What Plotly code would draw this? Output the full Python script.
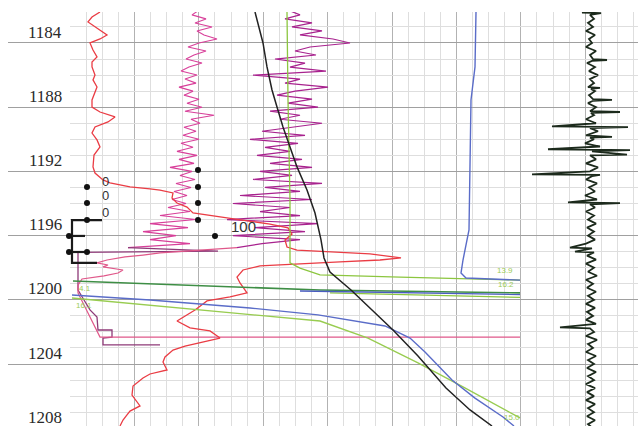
import plotly.graph_objects as go

# ---------------- data (track units across, depth in m) ----------------
depth_ticks = [1184, 1188, 1192, 1196, 1200, 1204, 1208]

# SP-like red curve
sp_depth = [1182.07,1182.38,1182.69,1183.06,1183.50,1183.75,1184.00,1184.44,1184.87,1185.18,
            1185.49,1185.99,1186.30,1186.74,1187.24,1187.55,1187.99,1188.30,1188.61,1188.92,
            1189.23,1189.61,1190.04,1190.48,1190.98,1191.41,1191.72,1192.10,1192.53,1192.72,
            1192.97,1193.09,1193.16,1193.34,1193.66,1193.97,1194.22,1194.59,1194.71,1194.90,
            1195.09,1195.28,1195.52,1195.90,1196.27,1196.71,1196.90,1197.02,1197.14,1197.39,
            1197.52,1197.64,1197.77,1197.89,1198.14,1198.58,1198.95,1199.57,1199.82,1200.07,
            1200.63,1201.32,1201.75,1201.94,1202.38,1202.69,1202.88,1203.13,1203.56,1203.87,
            1204.37,1204.62,1204.87,1205.37,1205.93,1206.61,1206.93,1207.17,1207.49,1207.86]
sp_value = [100,92,88,97,107,100,90,93,97,92,
            92,95,93,97,94,92,92,100,115,108,
            95,92,97,100,94,93,93,95,103,110,
            130,150,160,173,172,177,187,193,207,227,
            250,270,288,292,285,287,297,330,370,401,
            380,340,300,260,243,237,240,247,230,207,
            195,177,190,210,220,200,185,173,165,163,
            167,150,143,133,132,140,130,127,123,120]

# common sampling of the two gamma-type wiggles
log_depth = [1182.00,1182.25,1182.50,1182.75,1183.00,1183.25,1183.50,1183.75,1184.00,1184.25,
             1184.50,1184.75,1185.00,1185.25,1185.50,1185.75,1186.00,1186.25,1186.50,1186.75,
             1187.00,1187.25,1187.50,1187.75,1188.00,1188.25,1188.50,1188.75,1189.00,1189.25,
             1189.50,1189.75,1190.00,1190.25,1190.50,1190.75,1191.00,1191.25,1191.50,1191.75,
             1192.00,1192.25,1192.50,1192.75,1193.00,1193.25,1193.50,1193.75,1194.00,1194.25,
             1194.50,1194.75,1195.00,1195.25,1195.50,1195.75,1196.00,1196.25,1196.50,1196.75]
gr1_value = [198,192,206,195,212,197,204,217,199,188,
             206,194,186,202,189,181,197,185,196,179,
             193,184,199,187,202,185,214,191,200,184,
             196,183,199,181,193,177,197,179,194,170,
             192,180,195,176,191,174,187,172,186,168,
             190,160,196,150,188,143,176,150,190,128]
gr2_value = [290,300,285,312,292,322,300,333,350,310,
             295,316,275,305,290,326,253,300,285,328,
             295,277,312,288,318,270,300,280,322,290,
             262,305,250,298,265,290,257,302,270,312,
             260,292,253,322,265,300,240,312,233,290,
             260,300,227,318,255,305,233,300,262,237]

# lower continuation of gr1 (purple) and of gr2 (pink)
gr1_tail_depth = [1196.75,1196.96,1197.05,1198.14,1199.39,1200.01,1200.63,1201.07,1201.88,1201.88,
                  1202.32,1202.38,1202.81,1202.81]
gr1_tail_value = [128,218,78,78,78,84,90,97,98,112,112,103,103,160]
gr2_tail_depth = [1196.75,1196.90,1196.96,1197.08,1197.21,1197.33,1197.52,1197.70,1197.83,1197.95,
                  1198.14,1198.33,1198.51,1198.70,1199.08,1199.57,1202.32,1202.32]
gr2_tail_value = [237,200,183,160,143,125,107,97,108,103,123,118,104,82,78,78,100,520]

# resistivity-like black curve
res_depth = [1182.07,1184.00,1185.49,1186.93,1187.99,1189.23,1190.48,1191.72,1193.16,1194.59,
             1196.27,1197.39,1198.27,1199.39,1200.63,1201.88,1203.50,1205.49,1206.86,1207.86]
res_value = [255,263,267,272,277,283,290,297,307,315,
             321,324,330,351,372,393,418,446,470,492]

# light green curve (top vertical then flat)
lg_depth = [1182.07,1187.55,1193.78,1197.70,1198.02,1198.45,1198.58,1198.77]
lg_value = [287,288,290,290,300,320,400,520]

# blue curve (right vertical then flat)
bl_depth = [1182.07,1185.49,1187.55,1193.78,1195.65,1197.52,1198.33,1198.64,1198.70,1198.77]
bl_value = [476,475,471,470,469,463,461,466,490,520]

# dark green flat line
dg_depth = [1198.83,1199.14,1199.39,1199.57]
dg_value = [73,200,320,520]
# blue + light green flat lines at right
bf_depth = [1199.45,1199.67]
bf_value = [300,520]
gf_depth = [1199.57,1199.85]
gf_value = [330,520]

# blue falling curve
bd_depth = [1199.70,1200.01,1200.51,1200.94,1201.63,1202.38,1203.25,1204.25,1205.00,1206.12,1207.30,1207.86]
bd_value = [72,150,250,318,385,410,425,440,452,475,503,514]

# light green falling curve
ge_depth = [1199.89,1200.63,1201.32,1202.38,1203.93,1205.43,1206.36,1207.30,1207.36]
ge_value = [72,200,320,368,418,463,490,517,520]

# right track wiggle (black)
wg_depth = [1182.00,1182.10,1182.14,1182.25,1182.50,1182.75,1183.00,1183.25,1183.50,1183.75,
            1184.00,1184.25,1184.50,1184.75,1185.00,1185.06,1185.12,1185.25,1185.50,1185.75,
            1186.00,1186.25,1186.50,1186.75,1186.80,1186.86,1187.00,1187.25,1187.50,1187.55,
            1187.60,1187.75,1188.00,1188.25,1188.30,1188.36,1188.50,1188.75,1189.00,1189.20,
            1189.24,1189.30,1189.50,1189.75,1189.85,1189.90,1190.00,1190.25,1190.45,1190.62,
            1190.68,1190.75,1190.95,1191.00,1191.25,1191.50,1191.75,1192.00,1192.18,1192.22,
            1192.30,1192.50,1192.75,1193.00,1193.25,1193.50,1193.75,1193.93,1193.97,1194.05,
            1194.25,1194.50,1194.75,1195.00,1195.25,1195.50,1195.75,1196.00,1196.25,1196.50,
            1196.75,1196.80,1197.00,1197.05,1197.25,1197.50,1197.75,1198.00,1198.25,1198.50,
            1198.75,1199.00,1199.25,1199.50,1199.75,1200.00,1200.25,1200.50,1200.75,1201.00,
            1201.25,1201.50,1201.72,1201.78,1202.00,1202.25,1202.50,1202.75,1203.00,1203.25,
            1203.50,1203.75,1204.00,1204.25,1204.50,1204.75,1205.00,1205.25,1205.50,1205.75,
            1206.00,1206.25,1206.50,1206.75,1207.00,1207.25,1207.50,1207.75,1208.00]
wg_value = [591,582,601,590,594,588,593,586,595,589,
            592,586,596,590,593,607,592,587,595,589,
            598,590,594,588,600,591,595,589,593,612,
            593,588,596,590,620,591,594,586,596,552,
            628,590,598,586,612,590,594,585,600,548,
            630,592,627,590,596,586,598,590,532,600,
            592,586,597,589,595,585,597,568,620,590,
            595,586,594,588,596,587,594,588,595,586,
            570,592,575,594,587,596,586,594,588,597,
            586,593,587,596,588,594,586,595,587,593,
            586,596,560,590,594,586,597,588,593,586,
            596,588,594,587,596,588,594,586,595,587,
            594,586,595,588,594,587,595,588,593]

# scale-marker dots and bracket
dot_depth = [1192.97,1193.97,1195.03,1191.91,1192.97,1193.97,1195.03,1196.02,1196.02,1197.02,1197.02]
dot_value = [87,87,87,198,198,198,198,215,69,69,87]
br_depth = [1195.03,1195.03,1197.70,1197.70,None,1196.02,1196.02,None,1197.02,1197.02]
br_value = [102,72,72,97,None,72,85,None,72,87]

scale_labels = ["0", "0", "0", "100"]
scale_label_depth = [1192.62, 1193.50, 1194.58, 1195.46]
scale_label_value = [105, 105, 105, 243]

curve_labels = ["4.1", "16.1", "13.9", "16.2", "15.0"]
curve_label_depth = [1199.27, 1200.33, 1198.20, 1199.07, 1207.30]
curve_label_value = [85, 84, 505, 506, 512]

# ---------------- figure ----------------
fig = go.Figure()

# empty trace that keeps the background grid subplot alive
fig.add_trace(go.Scatter(x=[], y=[], mode="lines", xaxis="x", yaxis="y",
                         hoverinfo="skip", showlegend=False))

def line(x, y, color, width=1.3):
    fig.add_trace(go.Scatter(x=x, y=y, mode="lines", xaxis="x2", yaxis="y2",
                             line=dict(color=color, width=width), hoverinfo="skip",
                             showlegend=False, connectgaps=False))

line(gr1_value, log_depth, "#d8409a", 1.1)
line(gr1_tail_value, gr1_tail_depth, "#8e3a78", 1.3)
line(gr2_value, log_depth, "#a8228e", 1.2)
line(gr2_tail_value, gr2_tail_depth, "#e0588a", 1.2)
line(sp_value, sp_depth, "#ea3c44", 1.3)
line(lg_value, lg_depth, "#8cc63f", 1.3)
line(bl_value, bl_depth, "#5a6cc8", 1.4)
line(gf_value, gf_depth, "#8cc63f", 1.3)
line(dg_value, dg_depth, "#3e8e45", 1.6)
line(bf_value, bf_depth, "#4a5cc0", 1.4)
line(ge_value, ge_depth, "#98cc50", 1.4)
line(bd_value, bd_depth, "#5a6cc8", 1.4)
line(res_value, res_depth, "#222222", 1.5)
line(wg_value, wg_depth, "#1c2a1c", 1.8)
line(br_value, br_depth, "#1a1a1a", 2.2)

fig.add_trace(go.Scatter(x=dot_value, y=dot_depth, mode="markers", xaxis="x2", yaxis="y2",
                         marker=dict(color="#111111", size=6), hoverinfo="skip",
                         showlegend=False, cliponaxis=False))

for t, d, v in zip(scale_labels, scale_label_depth, scale_label_value):
    fig.add_annotation(x=v, y=d, xref="x2", yref="y2", text=t, showarrow=False,
                       xanchor="center", yanchor="middle",
                       font=dict(family="Liberation Sans, Arial, sans-serif",
                                 size=13 if t == "0" else 15, color="#333333"))

for t, d, v in zip(curve_labels, curve_label_depth, curve_label_value):
    fig.add_annotation(x=v, y=d, xref="x2", yref="y2", text=t, showarrow=False,
                       xanchor="center", yanchor="middle",
                       font=dict(family="Liberation Sans, Arial, sans-serif", size=8, color="#9ccc55"))

for d in depth_ticks:
    fig.add_annotation(x=45, y=d - 0.68, xref="x2", yref="y2", text=str(d), showarrow=False,
                       xanchor="center", yanchor="middle", borderpad=0,
                       font=dict(family="Liberation Serif, Times New Roman, serif", size=17, color="#2a2a2a"))

ytop, ybot = 1182.07, 1207.86
ydom = [0, 414 / 426]

fig.update_layout(
    width=638, height=426,
    margin=dict(l=0, r=0, t=0, b=0),
    paper_bgcolor="white", plot_bgcolor="rgba(0,0,0,0)",
    showlegend=False,
    xaxis=dict(domain=[69.5 / 638, 1], range=[69.5, 638], showticklabels=False, ticks="",
               zeroline=False, showline=False, showgrid=True, tick0=70, dtick=64.4,
               gridcolor="#b2b2b2", gridwidth=1, anchor="y",
               minor=dict(tick0=70, dtick=16.1, showgrid=True, gridcolor="#dedede", gridwidth=1)),
    yaxis=dict(domain=ydom, range=[ybot, ytop], showticklabels=False, ticks="",
               zeroline=False, showline=False, showgrid=True, tick0=1182, dtick=1,
               gridcolor="#dedede", gridwidth=1, anchor="x"),
    xaxis2=dict(domain=[8 / 638, 1], range=[8, 638], showticklabels=False, ticks="",
                zeroline=False, showline=False, showgrid=False, anchor="y2"),
    yaxis2=dict(domain=ydom, range=[ybot, ytop], showticklabels=False, ticks="",
                zeroline=False, showline=False, showgrid=True, tick0=1184, dtick=4,
                gridcolor="#a0a0a0", gridwidth=1, anchor="x2"),
)

fig.write_html("out.html")
